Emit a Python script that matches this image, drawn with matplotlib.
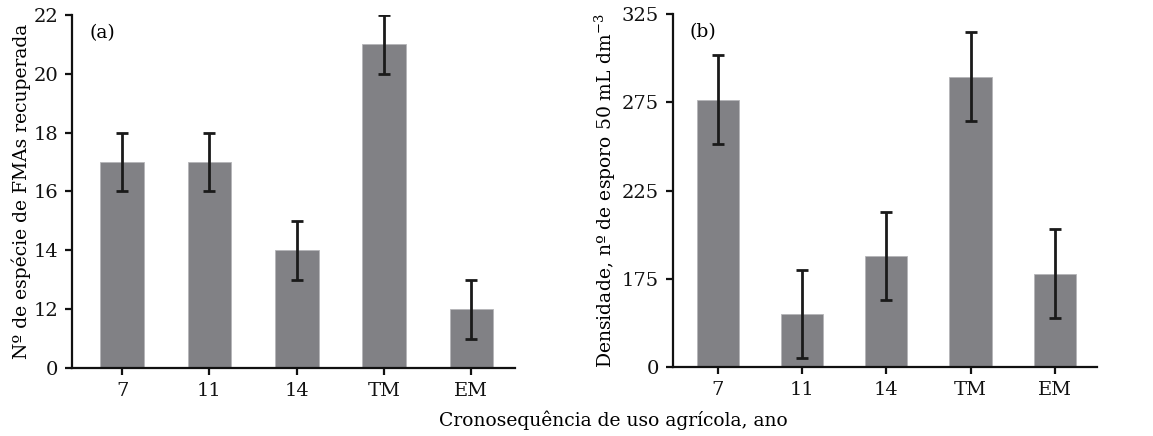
import matplotlib.pyplot as plt
import numpy as np

plt.rcParams['font.family'] = ['DejaVu Serif']
plt.rcParams['mathtext.fontset'] = 'dejavuserif'

categorias = ['7', '11', '14', 'TM', 'EM']

# (a) numero de especies de FMAs
especies = [17, 17, 14, 21, 12]
especies_err = [1, 1, 1, 1, 1]

# (b) densidade de esporos
densidade = [276.5, 155, 188, 289.5, 178]
densidade_err = [25, 25, 25, 25, 25]

cor_barra = '#818185'

fig = plt.figure(figsize=(11.53, 4.36), dpi=100)
ax1 = fig.add_axes([0.0624, 0.156, 0.3843, 0.810])
ax2 = fig.add_axes([0.5837, 0.158, 0.3677, 0.810])

x = np.arange(len(categorias))


def desenha(ax, valores, erros, base, topo, ticks, rotulo, letra, xmin, pad):
    # eixo "quebrado": a base do grafico aparece como 0
    alturas = np.array(valores) - base
    ax.bar(x, alturas, width=0.5, bottom=base, color=cor_barra,
           edgecolor='#b5b5b8', linewidth=0.6, zorder=2)
    ax.errorbar(x, valores, yerr=erros, fmt='none', ecolor='#1a1a1a',
                elinewidth=2, capsize=4, capthick=2, zorder=3)
    ax.set_xlim(xmin, 4.5)
    ax.set_ylim(base, topo)
    ax.set_yticks(ticks)
    ax.set_yticklabels(['0'] + [str(t) for t in ticks[1:]])
    ax.set_xticks(x)
    ax.set_xticklabels(categorias)
    ax.spines['top'].set_visible(False)
    ax.spines['right'].set_visible(False)
    for s in ['left', 'bottom']:
        ax.spines[s].set_linewidth(1.6)
        ax.spines[s].set_color('#111111')
    ax.tick_params(axis='both', direction='out', length=5, width=1.6,
                   labelsize=14, colors='#111111', pad=5)
    ax.set_ylabel(rotulo, fontsize=13.5, labelpad=pad)
    ax.text(0.04, 0.975, letra, transform=ax.transAxes, fontsize=13.5,
            va='top', ha='left')


desenha(ax1, especies, especies_err, 10, 22, [10, 12, 14, 16, 18, 20, 22],
        'Nº de espécie de FMAs recuperada', '(a)', -0.575, 2)
desenha(ax2, densidade, densidade_err, 125, 325, [125, 175, 225, 275, 325],
        r'Densidade, nº de esporo 50 mL dm$^{-3}$', '(b)', -0.53, 3)

fig.text(0.532, 0.035, 'Cronosequência de uso agrícola, ano', ha='center',
         va='center', fontsize=13.5)

fig.savefig('out.png', dpi=100)
